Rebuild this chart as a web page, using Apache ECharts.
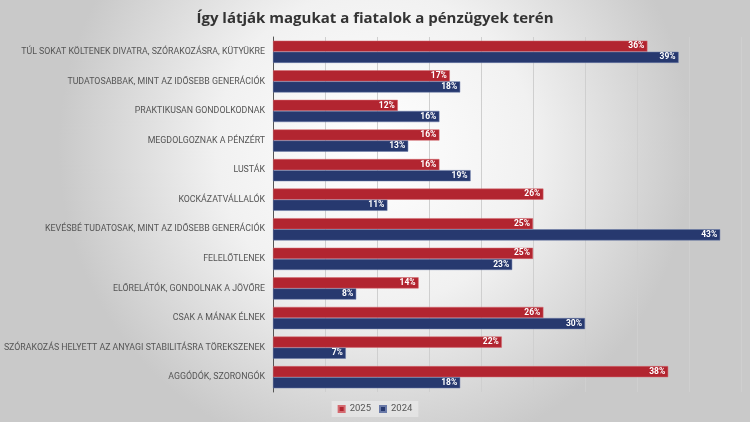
<!DOCTYPE html>
<html>
<head>
<meta charset="utf-8">
<script src="https://cdn.jsdelivr.net/npm/echarts@6/dist/echarts.min.js"></script>
<style>
    html, body { margin: 0; padding: 0; }
    #chart { width: 750px; height: 422px; }
</style>
</head>
<body>
<div id="chart"></div>
<script>
// 分类（从上到下）
var categories = [
    'TÚL SOKAT KÖLTENEK DIVATRA, SZÓRAKOZÁSRA, KÜTYÜKRE',
    'TUDATOSABBAK, MINT AZ IDŐSEBB GENERÁCIÓK',
    'PRAKTIKUSAN GONDOLKODNAK',
    'MEGDOLGOZNAK A PÉNZÉRT',
    'LUSTÁK',
    'KOCKÁZATVÁLLALÓK',
    'KEVÉSBÉ TUDATOSAK, MINT AZ IDŐSEBB GENERÁCIÓK',
    'FELELŐTLENEK',
    'ELŐRELÁTÓK, GONDOLNAK A JÖVŐRE',
    'CSAK A MÁNAK ÉLNEK',
    'SZÓRAKOZÁS HELYETT AZ ANYAGI STABILITÁSRA TÖREKSZENEK',
    'AGGÓDÓK, SZORONGÓK'
];
var values2025 = [36, 17, 12, 16, 16, 26, 25, 25, 14, 26, 22, 38];
var values2024 = [39, 18, 16, 13, 19, 11, 43, 23, 8, 30, 7, 18];
var seriesNames = ['2025', '2024'];

var myChart = echarts.init(document.getElementById('chart'));

var barLabel = {
    show: true,
    position: 'insideRight',
    distance: 3,
    formatter: '{c}%',
    color: '#fff',
    fontFamily: 'Roboto',
    fontWeight: 'bold',
    fontSize: 8.5
};

var option = {
    backgroundColor: {
        type: 'radial', x: 0.5, y: 0.35, r: 0.75,
        colorStops: [
            { offset: 0, color: '#ffffff' },
            { offset: 0.5, color: '#f1f1f1' },
            { offset: 1, color: '#c9c9c9' }
        ]
    },
    title: {
        text: 'Így látják magukat a fiatalok a pénzügyek terén',
        left: 'center',
        top: 6,
        textStyle: {
            color: '#333',
            fontFamily: 'Open Sans',
            fontSize: 15,
            fontWeight: 'bold'
        }
    },
    legend: {
        data: seriesNames,
        bottom: 5,
        left: 'center',
        icon: 'rect',
        itemWidth: 6,
        itemHeight: 6,
        itemGap: 8,
        padding: [3, 6],
        backgroundColor: 'rgba(255,255,255,0.35)',
        textStyle: { color: '#555', fontSize: 9.5, fontFamily: 'Roboto' }
    },
    grid: {
        left: 273,
        right: 9,
        top: 37,
        bottom: 30
    },
    xAxis: {
        type: 'value',
        min: 0,
        max: 45,
        interval: 5,
        axisLabel: { show: false },
        axisLine: { show: false },
        axisTick: { show: false },
        splitLine: { lineStyle: { color: '#cfcfcf', width: 1 } }
    },
    yAxis: {
        type: 'category',
        inverse: true,
        data: categories,
        axisLine: { lineStyle: { color: '#555', width: 1 } },
        axisTick: { show: false },
        axisLabel: {
            color: '#555',
            fontFamily: 'Roboto',
            fontSize: 8.8,
            margin: 8
        }
    },
    series: [
        {
            name: seriesNames[0],
            type: 'bar',
            data: values2025,
            barGap: '0%',
            barCategoryGap: '25%',
            itemStyle: { color: '#b22530', borderColor: '#d46a70', borderWidth: 0.5 },
            label: barLabel
        },
        {
            name: seriesNames[1],
            type: 'bar',
            data: values2024,
            itemStyle: { color: '#27396f', borderColor: '#6a7aa8', borderWidth: 0.5 },
            label: barLabel
        }
    ]
};

myChart.setOption(option);
</script>
</body>
</html>
